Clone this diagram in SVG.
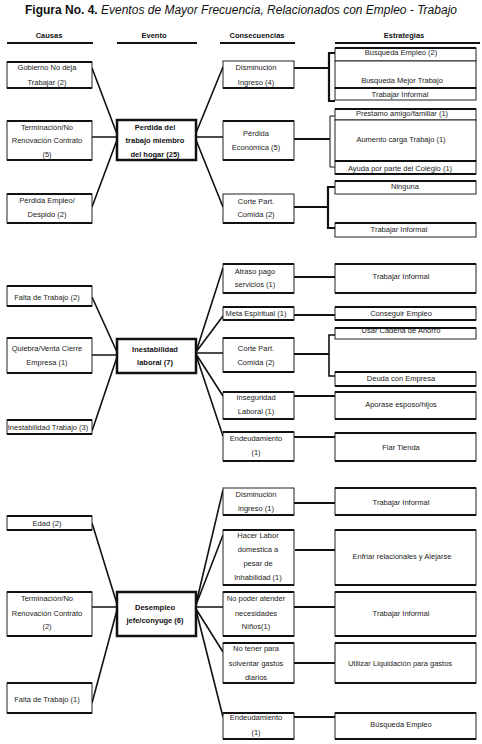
<svg xmlns="http://www.w3.org/2000/svg" width="482" height="744" viewBox="0 0 482 744">
<style>
.t{font-family:"Liberation Sans",Arial,sans-serif;font-size:7.5px;text-anchor:middle;fill:#222}
.b{font-weight:bold;fill:#111}
.bx{fill:#fff;stroke:#222;stroke-width:1}
.tb{stroke:#111;stroke-width:2;fill:none}
.ev{fill:#fff;stroke:#111;stroke-width:2.5}
.c{stroke:#111;stroke-width:1.6;fill:none}
.ck{stroke:#111;stroke-width:2.2;fill:none}
.cn{stroke:#111;stroke-width:1;fill:none}
.hl{stroke:#111;stroke-width:2.2}
</style>
<rect width="482" height="744" fill="#fff"/>
<text x="241" y="14" font-family="Liberation Sans, Arial, sans-serif" font-size="12" text-anchor="middle" fill="#111"><tspan font-weight="bold">Figura No. 4.</tspan><tspan font-style="italic"> Eventos de Mayor Frecuencia, Relacionados con Empleo - Trabajo</tspan></text>
<g id="headers">
<text class="t b" x="49" y="38">Causas</text>
<text class="t b" x="154" y="38">Evento</text>
<text class="t b" x="257" y="38">Consecuencias</text>
<text class="t b" x="404" y="38">Estrategias</text>
<line class="hl" x1="7" y1="43" x2="93" y2="43"/>
<line class="hl" x1="117" y1="43" x2="197" y2="43"/>
<line class="hl" x1="220" y1="43" x2="295" y2="43"/>
<line class="hl" x1="335" y1="43" x2="480" y2="43"/>
</g>
<g id="connectors">
<path class="c" d="M92,68 L117,134 M92,137 H117 M92,207 L117,140"/>
<path class="c" d="M196,133 L223,67 M196,137 H223 M196,140 L223,207"/>
<path class="ck" d="M294,68 H329 M335,53 H329 V101 H335"/>
<path class="ck" d="M294,139 H330"/>
<path class="cn" d="M335,116 H330 V167 H335"/>
<path class="ck" d="M294,207 H328 M335,187 H328 V228 H335"/>
<path class="c" d="M92,297 L117,352 M92,355 H117 M92,431 L117,357"/>
<path class="c" d="M196,352 L223,268 M196,352 L223,316 M196,353 H223 M196,354 L223,396 M196,355 L223,436"/>
<path class="ck" d="M294,277 H335 M294,315 H335 M294,354 H329 M294,396 H335 M294,437 H335"/>
<path class="c" d="M335,335 H329 V376 H335"/>
<path class="c" d="M92,523 L117,604 M92,607 H117 M92,703 L117,610"/>
<path class="c" d="M196,604 L223,490 M196,605 L223,535 M196,607 H223 M196,609 L223,652 M196,610 L223,717"/>
<path class="ck" d="M294,503 H335 M295,550 H338 M294,607 H335 M294,663 H335 M294,717 H335"/>
</g>
<g id="causa-gobierno"><rect class="bx" x="7" y="62" width="85" height="26"/><path class="tb" d="M7,62H92M7,88H92"/><text class="t" x="47" y="69.7">Gobierno No deja</text><text class="t" x="47" y="84.7">Trabajar (2)</text></g>
<g id="causa-terminacion-5"><rect class="bx" x="7" y="121" width="85" height="39"/><path class="tb" d="M7,121H92M7,160H92"/><text class="t" x="47" y="129.7">Terminación/No</text><text class="t" x="47" y="142.7">Renovación Contrato</text><text class="t" x="47" y="156.7">(5)</text></g>
<g id="causa-perdida-empleo"><rect class="bx" x="7" y="194" width="85" height="29"/><path class="tb" d="M7,194H92M7,223H92"/><text class="t" x="47" y="202.7">Pérdida Empleo/</text><text class="t" x="47" y="216.7">Despido (2)</text></g>
<g id="causa-falta-2"><rect class="bx" x="7" y="286" width="85" height="20"/><path class="tb" d="M7,286H92M7,306H92"/><text class="t" x="47" y="299.7">Falta de Trabajo (2)</text></g>
<g id="causa-quiebra"><rect class="bx" x="7" y="338" width="85" height="35"/><path class="tb" d="M7,338H92M7,373H92"/><text class="t" x="47" y="350.7">Quiebra/Venta Cierre</text><text class="t" x="47" y="364.7">Empresa (1)</text></g>
<g id="causa-inestabilidad"><rect class="bx" x="7" y="420" width="85" height="14"/><path class="tb" d="M7,420H92M7,434H92"/><text class="t" x="48" y="429.7">Inestabilidad Trabajo (3)</text></g>
<g id="causa-edad"><rect class="bx" x="7" y="516" width="85" height="14"/><path class="tb" d="M7,516H92M7,530H92"/><text class="t" x="47" y="525.7">Edad (2)</text></g>
<g id="causa-terminacion-2"><rect class="bx" x="7" y="592" width="85" height="44"/><path class="tb" d="M7,592H92M7,636H92"/><text class="t" x="47" y="600.7">Terminación/No</text><text class="t" x="47" y="615.7">Renovación Contrato</text><text class="t" x="47" y="628.7">(2)</text></g>
<g id="causa-falta-1"><rect class="bx" x="7" y="683" width="85" height="30"/><path class="tb" d="M7,683H92M7,713H92"/><text class="t" x="47" y="701.7">Falta de Trabajo (1)</text></g>
<g id="evento-perdida"><rect class="ev" x="117" y="120" width="79" height="40"/><text class="t b" x="155" y="129.7">Perdida del</text><text class="t b" x="155" y="142.7">trabajo miembro</text><text class="t b" x="155" y="156.7">del hogar (25)</text></g>
<g id="evento-inestabilidad"><rect class="ev" x="117" y="339" width="79" height="34"/><text class="t b" x="155" y="351.7">Inestabilidad</text><text class="t b" x="155" y="364.7">laboral (7)</text></g>
<g id="evento-desempleo"><rect class="ev" x="117" y="592" width="79" height="44"/><text class="t b" x="155" y="609.7">Desempleo</text><text class="t b" x="155" y="622.7">jefe/conyuge (6)</text></g>
<g id="cons-disminucion-4"><rect class="bx" x="223" y="61" width="71" height="27"/><path class="tb" d="M223,88H294"/><text class="t" x="256" y="69.7">Disminución</text><text class="t" x="256" y="84.7">Ingreso (4)</text></g>
<g id="cons-perdida-economica"><rect class="bx" x="223" y="121" width="71" height="39"/><path class="tb" d="M223,121H294M223,160H294"/><text class="t" x="256" y="135.7">Pérdida</text><text class="t" x="256" y="149.7">Económica (5)</text></g>
<g id="cons-corte-1"><rect class="bx" x="223" y="194" width="71" height="29"/><path class="tb" d="M223,223H294"/><text class="t" x="256" y="203.7">Corte Part.</text><text class="t" x="256" y="216.7">Comida (2)</text></g>
<g id="cons-atraso"><rect class="bx" x="223" y="264" width="71" height="29"/><path class="tb" d="M223,264H294M223,293H294"/><text class="t" x="255" y="273.7">Atraso pago</text><text class="t" x="255" y="286.7">servicios (1)</text></g>
<g id="cons-meta"><rect class="bx" x="223" y="307" width="71" height="13"/><path class="tb" d="M223,307H294M223,320H294"/><text class="t" x="256" y="315.7">Meta Espiritual (1)</text></g>
<g id="cons-corte-2"><rect class="bx" x="223" y="338" width="71" height="34"/><path class="tb" d="M223,338H294M223,372H294"/><text class="t" x="256" y="350.7">Corte Part.</text><text class="t" x="256" y="364.7">Comida (2)</text></g>
<g id="cons-inseguridad"><rect class="bx" x="223" y="392" width="71" height="27"/><path class="tb" d="M223,392H294M223,419H294"/><text class="t" x="256" y="399.7">Inseguridad</text><text class="t" x="256" y="413.7">Laboral (1)</text></g>
<g id="cons-endeudamiento-1"><rect class="bx" x="223" y="432" width="71" height="29"/><path class="tb" d="M223,432H294M223,461H294"/><text class="t" x="256" y="440.7">Endeudamiento</text><text class="t" x="256" y="454.7">(1)</text></g>
<g id="cons-disminucion-1"><rect class="bx" x="223" y="488" width="71" height="27"/><path class="tb" d="M223,515H294"/><text class="t" x="256" y="496.7">Disminución</text><text class="t" x="256" y="510.7">ingreso (1)</text></g>
<g id="cons-hacer-labor"><rect class="bx" x="223" y="530" width="71" height="55"/><path class="tb" d="M223,530H294M223,585H294"/><text class="t" x="258" y="537.7">Hacer Labor</text><text class="t" x="258" y="551.7">domestica a</text><text class="t" x="258" y="565.7">pesar de</text><text class="t" x="258" y="579.7">Inhabilidad (1)</text></g>
<g id="cons-no-poder"><rect class="bx" x="223" y="592" width="71" height="44"/><path class="tb" d="M223,592H294M223,636H294"/><text class="t" x="256" y="600.7">No poder atender</text><text class="t" x="256" y="615.7">necesidades</text><text class="t" x="256" y="628.7">Niños(1)</text></g>
<g id="cons-no-tener"><rect class="bx" x="223" y="643" width="71" height="40"/><path class="tb" d="M223,643H294M223,683H294"/><text class="t" x="256" y="650.7">No tener para</text><text class="t" x="256" y="665.7">solventar gastos</text><text class="t" x="256" y="679.7">diarios</text></g>
<g id="cons-endeudamiento-2"><rect class="bx" x="223" y="713" width="71" height="26"/><path class="tb" d="M223,713H294M223,739H294"/><text class="t" x="256" y="719.7">Endeudamiento</text><text class="t" x="256" y="734.7">(1)</text></g>
<g id="estr-busqueda-empleo-2"><rect class="bx" x="335" y="48" width="141" height="13"/><path class="tb" d="M335,48H476"/><text class="t" x="401" y="54.7">Busqueda Empleo (2)</text></g>
<g id="estr-busqueda-mejor"><rect class="bx" x="335" y="61" width="141" height="27"/><path class="tb" d="M335,88H476"/><text class="t" x="402" y="82.7">Busqueda Mejor Trabajo</text></g>
<g id="estr-trabajar-informal-1"><rect class="bx" x="335" y="88" width="141" height="12"/><path class="tb" d="M335,88H476"/><text class="t" x="400" y="96.7">Trabajar Informal</text></g>
<g id="estr-prestamo"><rect class="bx" x="335" y="109" width="141" height="11"/><path class="tb" d="M335,109H476"/><text class="t" x="402" y="115.5">Prestamo amigo/familiar (1)</text></g>
<g id="estr-aumento"><rect class="bx" x="335" y="120" width="141" height="41"/><text class="t" x="401" y="141.7">Aumento carga Trabajo (1)</text></g>
<g id="estr-ayuda"><rect class="bx" x="335" y="161" width="141" height="13"/><path class="tb" d="M335,161H476M335,174H476"/><text class="t" x="400" y="170.5">Ayuda por parte del Colegio (1)</text></g>
<g id="estr-ninguna"><rect class="bx" x="335" y="181" width="141" height="13"/><path class="tb" d="M335,181H476"/><text class="t" x="405" y="188.7">Ninguna</text></g>
<g id="estr-trabajar-informal-2"><rect class="bx" x="335" y="223" width="141" height="14"/><path class="tb" d="M335,223H476"/><text class="t" x="399" y="231.7">Trabajar Informal</text></g>
<g id="estr-trabajar-informal-3"><rect class="bx" x="335" y="264" width="141" height="29"/><path class="tb" d="M335,264H476M335,293H476"/><text class="t" x="401" y="278.7">Trabajar Informal</text></g>
<g id="estr-conseguir"><rect class="bx" x="335" y="307" width="141" height="13"/><path class="tb" d="M335,307H476M335,320H476"/><text class="t" x="401" y="315.7">Conseguir Empleo</text></g>
<g id="estr-cadena"><rect class="bx" x="335" y="328" width="141" height="11"/><path class="tb" d="M335,328H476"/><text class="t" x="401" y="333">Usar Cadena de Ahorro</text></g>
<g id="estr-deuda"><rect class="bx" x="335" y="372" width="141" height="14"/><path class="tb" d="M335,372H476M335,386H476"/><text class="t" x="401" y="380.7">Deuda con Empresa</text></g>
<g id="estr-aporase"><rect class="bx" x="335" y="392" width="141" height="27"/><path class="tb" d="M335,392H476M335,419H476"/><text class="t" x="401" y="406.7">Aporase esposo/hijos</text></g>
<g id="estr-fiar"><rect class="bx" x="335" y="433" width="141" height="28"/><path class="tb" d="M335,433H476M335,461H476"/><text class="t" x="401" y="449.7">Fiar Tienda</text></g>
<g id="estr-trabajar-informal-4"><rect class="bx" x="335" y="488" width="141" height="27"/><path class="tb" d="M335,488H476M335,515H476"/><text class="t" x="401" y="504.7">Trabajar Informal</text></g>
<g id="estr-enfriar"><rect class="bx" x="335" y="530" width="141" height="55"/><path class="tb" d="M335,530H476M335,585H476"/><text class="t" x="402" y="558.7">Enfriar relacionales y Alejarse</text></g>
<g id="estr-trabajar-informal-5"><rect class="bx" x="335" y="592" width="141" height="44"/><path class="tb" d="M335,592H476M335,636H476"/><text class="t" x="401" y="615.7">Trabajar Informal</text></g>
<g id="estr-liquidacion"><rect class="bx" x="335" y="643" width="141" height="40"/><path class="tb" d="M335,643H476M335,683H476"/><text class="t" x="400" y="665.7">Utilizar Liquidación para gastos</text></g>
<g id="estr-busqueda-empleo"><rect class="bx" x="335" y="713" width="141" height="26"/><path class="tb" d="M335,713H476M335,739H476"/><text class="t" x="401" y="726.7">Búsqueda Empleo</text></g>
</svg>
